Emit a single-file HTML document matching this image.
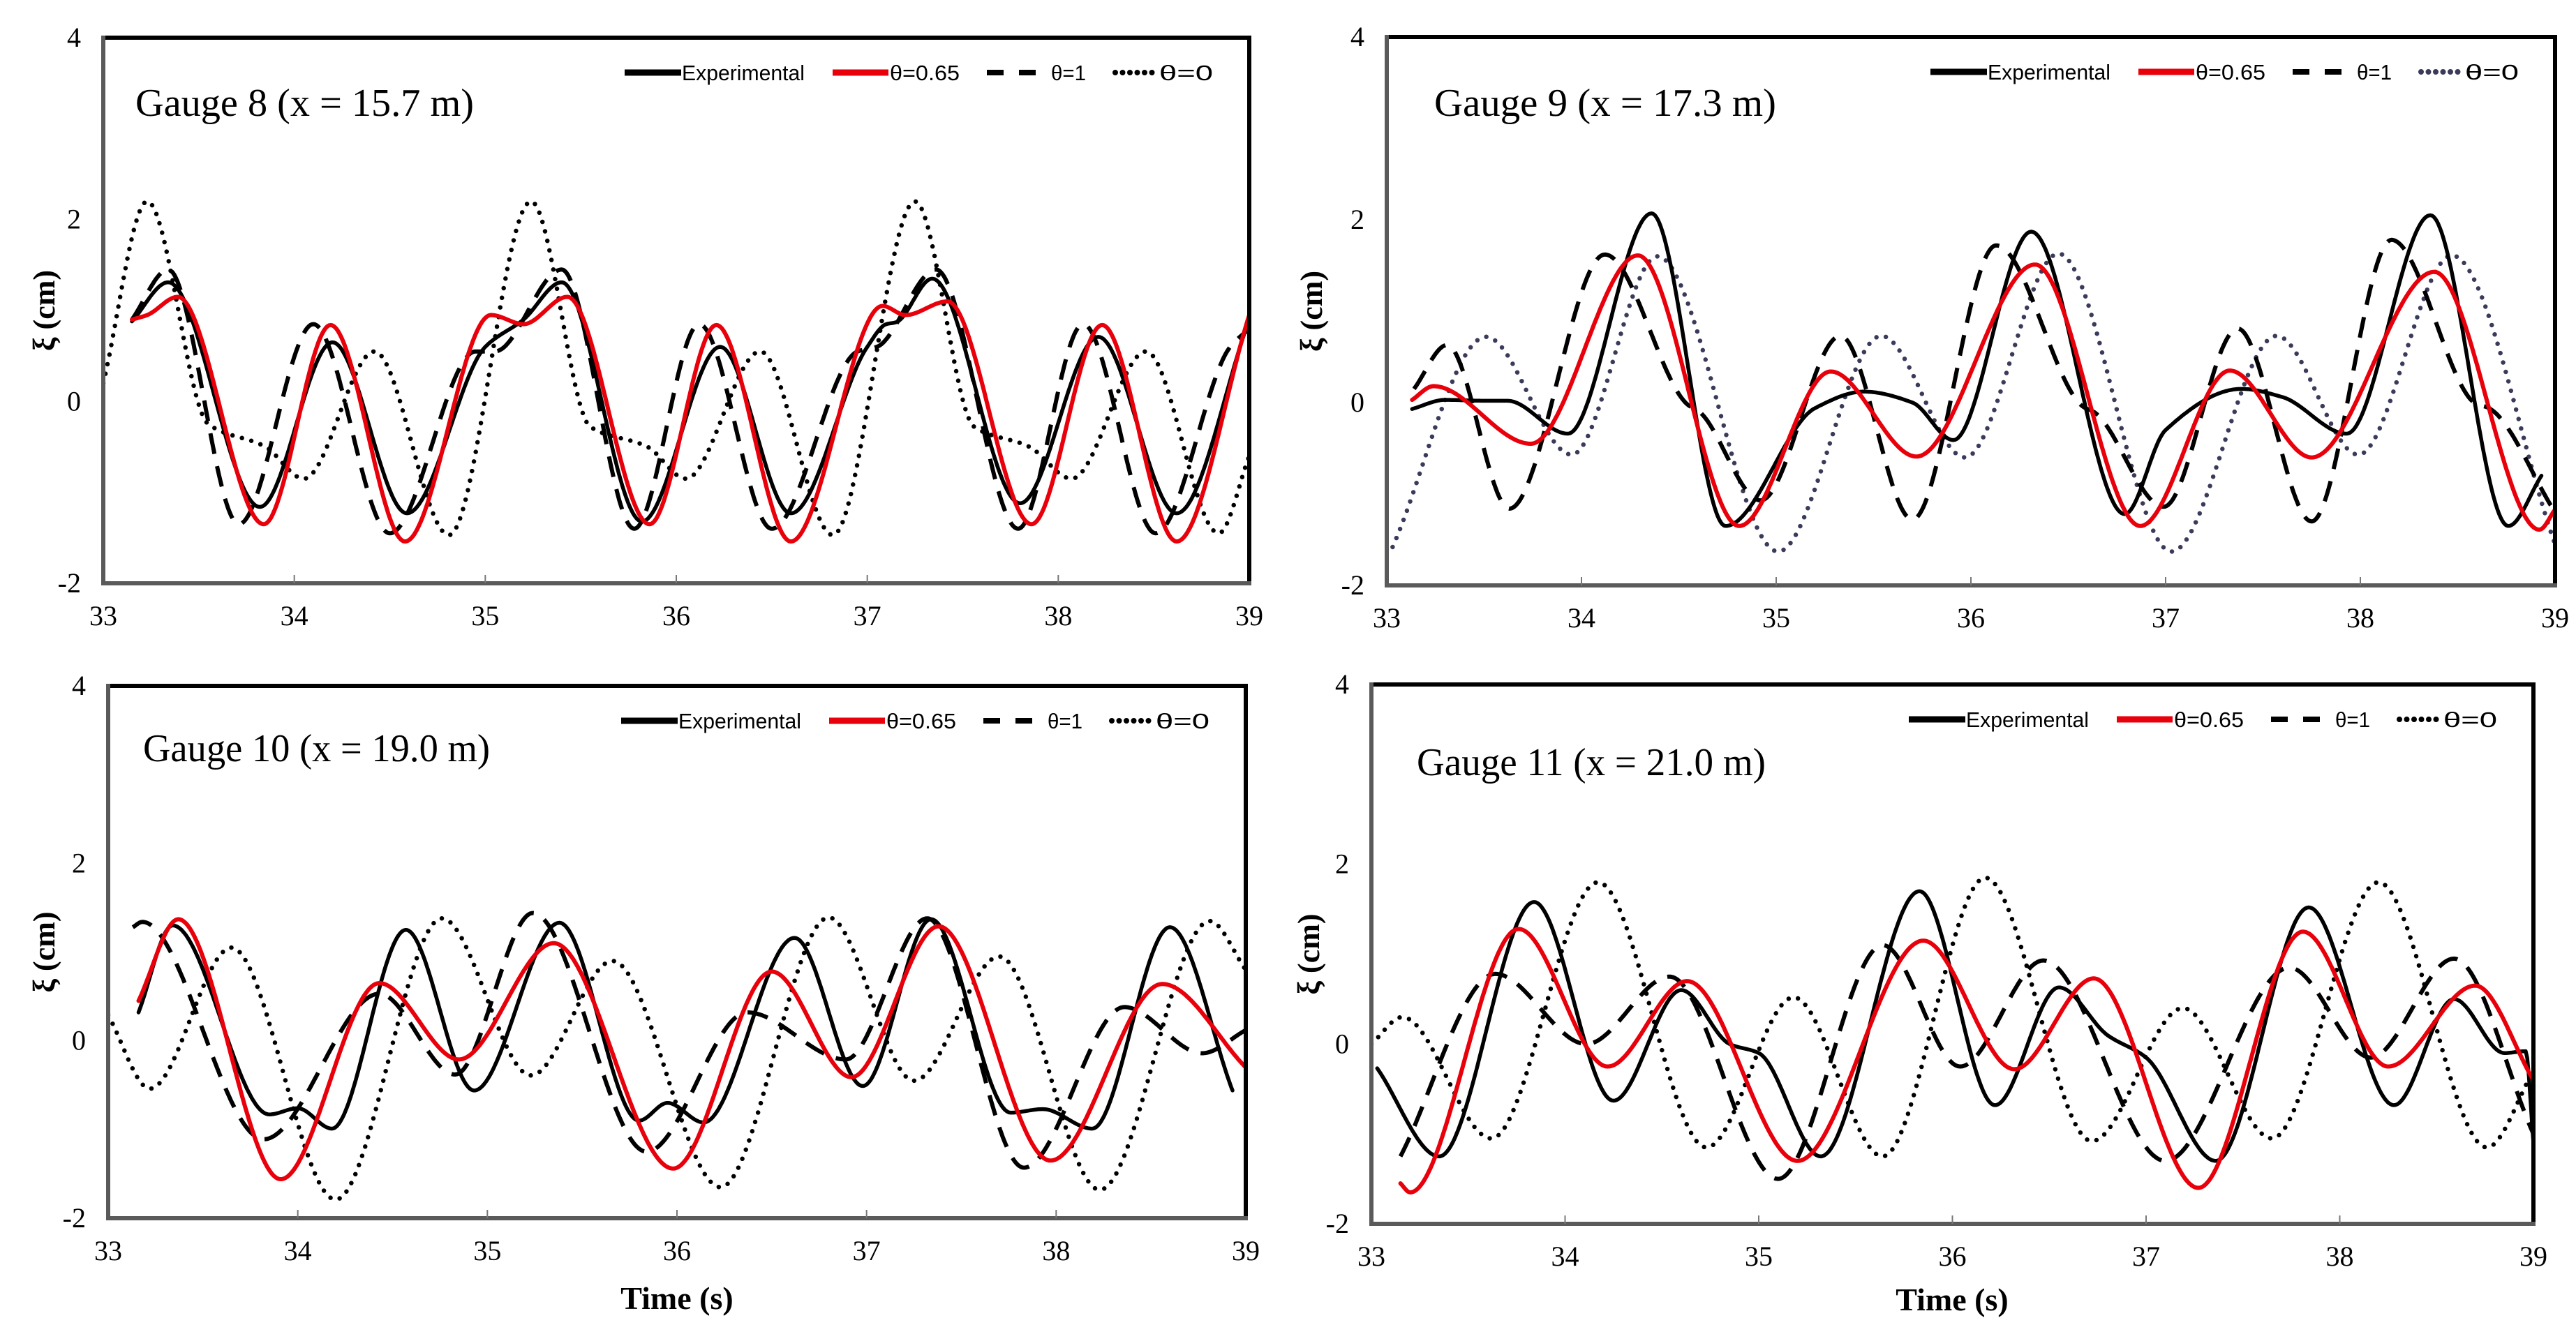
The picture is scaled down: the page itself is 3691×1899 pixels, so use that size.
<!DOCTYPE html>
<html><head><meta charset="utf-8"><style>
html,body{margin:0;padding:0;background:#fff;}
svg{display:block;}
</style></head><body>
<svg id="fig" width="3691" height="1899" viewBox="0 0 3691 1899" xmlns="http://www.w3.org/2000/svg"></svg>
<script>
// ---- data (time in s, surface elevation in cm) ----
const xTickLabels = ["33","34","35","36","37","38","39"];
const yTickLabels = ["4","2","0","-2"];
const gaugeTitles = ["Gauge 8 (x = 15.7 m)","Gauge 9 (x = 17.3 m)","Gauge 10 (x = 19.0 m)","Gauge 11 (x = 21.0 m)"];
const seriesNames = ["Experimental","θ=0.65","θ=1","θ=0"];

const g8ExpT = [33.15,33.34,33.82,34.2,34.59,35.0,35.2,35.4,35.82,36.23,36.6,37.0,37.1,37.15,37.34,37.8,38.21,38.62,39.0];
const g8ExpV = [0.88,1.31,-1.16,0.65,-1.23,0.6,0.9,1.31,-1.32,0.6,-1.23,0.6,0.85,0.87,1.35,-1.12,0.71,-1.23,0.9];
const g8RedT = [33.15,33.23,33.39,33.84,34.19,34.58,35.03,35.2,35.43,35.86,36.21,36.6,37.08,37.2,37.42,37.86,38.23,38.62,39.0];
const g8RedV = [0.9,0.95,1.15,-1.35,0.84,-1.54,0.95,0.85,1.15,-1.35,0.84,-1.54,1.05,0.95,1.1,-1.35,0.84,-1.54,0.95];
const g8DashT = [33.15,33.34,33.71,34.1,34.5,34.95,35.05,35.4,35.78,36.12,36.5,36.95,37.05,37.36,37.79,38.13,38.51,38.9,39.0];
const g8DashV = [0.9,1.45,-1.35,0.85,-1.45,0.55,0.55,1.45,-1.4,0.85,-1.4,0.55,0.6,1.45,-1.4,0.85,-1.45,0.6,0.8];
const g8DotT = [33.0,33.23,33.55,33.85,34.05,34.42,34.81,35.24,35.55,35.85,36.05,36.44,36.82,37.25,37.56,37.85,38.07,38.46,38.84,39.0];
const g8DotV = [0.2,2.2,-0.25,-0.5,-0.85,0.55,-1.47,2.2,-0.28,-0.5,-0.85,0.55,-1.47,2.2,-0.28,-0.5,-0.85,0.55,-1.45,-0.6];

const g9ExpT = [33.13,33.3,33.5,33.62,33.93,34.36,34.74,35.2,35.45,35.7,35.91,36.31,36.79,37.0,37.39,37.6,37.93,38.36,38.76,38.93];
const g9ExpV = [-0.07,0.03,0.02,0.02,-0.34,2.07,-1.35,-0.06,0.12,0.0,-0.41,1.87,-1.22,-0.3,0.15,0.06,-0.34,2.05,-1.35,-0.8];
const g9RedT = [33.13,33.24,33.74,34.29,34.81,35.28,35.72,36.33,36.87,37.33,37.75,38.38,38.92,39.0];
const g9RedV = [0.03,0.18,-0.45,1.61,-1.35,0.34,-0.59,1.51,-1.35,0.35,-0.6,1.43,-1.39,-1.17];
const g9DashT = [33.14,33.31,33.63,34.12,34.55,34.6,34.92,35.33,35.7,36.13,36.58,36.63,36.99,37.37,37.75,38.16,38.6,38.65,39.0];
const g9DashV = [0.15,0.63,-1.16,1.62,-0.03,-0.09,-1.07,0.73,-1.28,1.72,-0.05,-0.1,-1.14,0.81,-1.3,1.78,-0.02,-0.05,-1.2];
const g9DotT = [33.03,33.51,33.95,34.39,35.01,35.54,35.97,36.45,37.03,37.57,37.99,38.47,39.0];
const g9DotV = [-1.58,0.72,-0.57,1.6,-1.63,0.73,-0.6,1.63,-1.63,0.73,-0.57,1.61,-1.55];

const g10ExpT = [33.16,33.34,33.85,34.0,34.18,34.57,34.93,35.38,35.8,35.95,36.14,36.62,36.98,37.34,37.76,37.93,38.19,38.6,38.93];
const g10ExpV = [0.32,1.3,-0.83,-0.76,-0.99,1.25,-0.56,1.33,-0.9,-0.7,-0.92,1.16,-0.51,1.37,-0.81,-0.77,-0.99,1.28,-0.56];
const g10RedT = [33.16,33.37,33.91,34.43,34.85,35.35,35.98,36.5,36.92,37.38,37.97,38.56,39.0];
const g10RedV = [0.45,1.37,-1.56,0.65,-0.21,1.1,-1.44,0.78,-0.41,1.29,-1.35,0.64,-0.3];
const g10DashT = [33.13,33.18,33.82,34.43,34.83,35.24,35.84,36.37,36.89,37.32,37.83,38.36,38.77,39.0];
const g10DashV = [1.28,1.34,-1.11,0.53,-0.38,1.44,-1.25,0.32,-0.21,1.38,-1.43,0.38,-0.14,0.12];
const g10DotT = [33.0,33.22,33.65,34.2,34.76,35.23,35.66,36.23,36.8,37.25,37.7,38.23,38.81,39.0];
const g10DotV = [0.29,-0.54,1.05,-1.79,1.38,-0.39,0.9,-1.65,1.39,-0.45,0.95,-1.68,1.35,0.8];

const g11ExpT = [33.03,33.35,33.84,34.25,34.6,34.85,35.0,35.32,35.83,36.22,36.55,36.8,37.0,37.36,37.84,38.28,38.59,38.85,38.96,39.0];
const g11ExpV = [-0.27,-1.25,1.58,-0.63,0.6,0.0,-0.1,-1.25,1.7,-0.68,0.63,0.1,-0.15,-1.3,1.52,-0.68,0.5,-0.1,-0.08,-1.1];
const g11RedT = [33.15,33.2,33.76,34.22,34.63,35.2,35.85,36.32,36.73,37.27,37.81,38.25,38.7,39.0];
const g11RedV = [-1.55,-1.65,1.28,-0.25,0.7,-1.3,1.15,-0.28,0.73,-1.6,1.25,-0.25,0.65,-0.4];
const g11DashT = [33.15,33.64,34.11,34.54,35.1,35.64,36.04,36.47,37.1,37.74,38.16,38.59,39.0];
const g11DashV = [-1.25,0.78,0.0,0.75,-1.5,1.1,-0.25,0.93,-1.3,0.85,-0.15,0.95,-1.0];
const g11DotT = [33.0,33.16,33.62,34.17,34.73,35.18,35.64,36.17,36.72,37.19,37.65,38.2,38.76,39.0];
const g11DotV = [0.0,0.3,-1.05,1.8,-1.15,0.52,-1.25,1.85,-1.08,0.4,-1.05,1.8,-1.15,-0.3];

// ---- layout ----
const NS = "http://www.w3.org/2000/svg";
const svg = document.getElementById("fig");
const panels = [
  {x0:148,x1:1790,yT:54,yB:836,lx:194,ly:147,ylab:64,dotColor:"#000",key:"gauge-8",
   series:[[g8ExpT,g8ExpV],[g8RedT,g8RedV],[g8DashT,g8DashV],[g8DotT,g8DotV]]},
  {x0:1987,x1:3661,yT:53,yB:839,lx:2055,ly:147,ylab:1880,dotColor:"#3a3a5a",key:"gauge-9",
   series:[[g9ExpT,g9ExpV],[g9RedT,g9RedV],[g9DashT,g9DashV],[g9DotT,g9DotV]]},
  {x0:155,x1:1785,yT:983,yB:1746,lx:205,ly:1072,ylab:64,dotColor:"#000",key:"gauge-10",
   series:[[g10ExpT,g10ExpV],[g10RedT,g10RedV],[g10DashT,g10DashV],[g10DotT,g10DotV]]},
  {x0:1965,x1:3630,yT:981,yB:1754,lx:2030,ly:1092,ylab:1876,dotColor:"#000",key:"gauge-11",
   series:[[g11ExpT,g11ExpV],[g11RedT,g11RedV],[g11DashT,g11DashV],[g11DotT,g11DotV]]}
];
const styles = [
  {stroke:"#000",w:5.5,dash:null,cap:"round"},
  {stroke:"#e8000b",w:6,dash:null,cap:"round"},
  {stroke:"#000",w:6,dash:"30 18",cap:"butt"},
  {stroke:"#000",w:6.5,dash:"0 14",cap:"round"}
];
const seriesKeys = ["experimental","theta-0-65","theta-1","theta-0"];

function mk(tag, attrs, parent){
  const e = document.createElementNS(NS, tag);
  for (const k in attrs) e.setAttribute(k, attrs[k]);
  (parent||svg).appendChild(e);
  return e;
}
function monotone(T, V){
  const n=T.length, d=[], m=new Array(n).fill(0);
  for(let i=0;i<n-1;i++) d.push((V[i+1]-V[i])/(T[i+1]-T[i]));
  m[0]=d[0]; m[n-1]=d[n-2];
  for(let i=1;i<n-1;i++){
    if(d[i-1]*d[i]<=0) m[i]=0;
    else { const h0=T[i]-T[i-1], h1=T[i+1]-T[i];
      m[i]=3*(h0+h1)/((2*h1+h0)/d[i-1]+(h1+2*h0)/d[i]); }
  }
  const out=[];
  for(let i=0;i<n-1;i++){
    const h=T[i+1]-T[i], steps=Math.max(4,Math.ceil(h/0.008));
    for(let s=0;s<(i==n-2?steps+1:steps);s++){
      const u=s/steps, u2=u*u, u3=u2*u;
      const v=(2*u3-3*u2+1)*V[i]+(u3-2*u2+u)*h*m[i]+(-2*u3+3*u2)*V[i+1]+(u3-u2)*h*m[i+1];
      out.push([T[i]+u*h, v]);
    }
  }
  return out;
}

panels.forEach((p, pi) => {
  const g = mk("g", {});
  
  
  const sx = t => p.x0 + (t-33)/6*(p.x1-p.x0);
  const sy = v => p.yT + (4-v)/6*(p.yB-p.yT);

  // clip
  const cp = mk("clipPath", {id:"clip"+pi}, g);
  mk("rect", {x:p.x0, y:p.yT, width:p.x1-p.x0, height:p.yB-p.yT}, cp);

  // series
  const sg = mk("g", {"clip-path":"url(#clip"+pi+")"}, g);
  [3,2,0,1].forEach(si => {
    const [T,V] = p.series[si];
    const pts = monotone(T,V);
    const d = pts.map((q,i)=>(i?"L":"M")+sx(q[0]).toFixed(1)+","+sy(q[1]).toFixed(1)).join("");
    const st = styles[si];
    const path = mk("path", {d:d, fill:"none", stroke: si==3?p.dotColor:st.stroke, "stroke-width":st.w,
      "stroke-linecap":st.cap, "stroke-linejoin":"round"}, sg);
    if (st.dash) path.setAttribute("stroke-dasharray", st.dash);
    
    
  });

  // axes frame
  const top = mk("line",{x1:p.x0,y1:p.yT,x2:p.x1,y2:p.yT,stroke:"#000","stroke-width":6},g);
  
  
  const right = mk("line",{x1:p.x1,y1:p.yT-3,x2:p.x1,y2:p.yB,stroke:"#000","stroke-width":6},g);
  
  
  const yax = mk("line",{x1:p.x0,y1:p.yT-3,x2:p.x0,y2:p.yB+3,stroke:"#5a5a5a","stroke-width":6},g);
  
  
  const xax = mk("line",{x1:p.x0-3,y1:p.yB,x2:p.x1+3,y2:p.yB,stroke:"#5a5a5a","stroke-width":6},g);
  
  

  // x ticks
  xTickLabels.forEach((lab, i) => {
    const t = 33 + i, x = sx(t);
    if (i>0 && i<6) {
      const tk = mk("line",{x1:x,y1:p.yB,x2:x,y2:p.yB-12,stroke:"#777","stroke-width":2},g);
      
      
    }
    const tx = mk("text",{x:x,y:p.yB+60,"text-anchor":"middle","font-family":"Liberation Serif, serif","font-size":40},g);
    tx.textContent = lab;
    
    
  });
  // y ticks
  yTickLabels.forEach((lab, i) => {
    const v = 4 - 2*i, y = sy(v);
    const tx = mk("text",{x:p.x0-32,y:y+13,"text-anchor":"end","font-family":"Liberation Serif, serif","font-size":40},g);
    tx.textContent = lab;
    
    
  });
  // y axis title
  const yt = mk("text",{x:p.ylab,y:(p.yT+p.yB)/2,"text-anchor":"middle","font-family":"Liberation Serif, serif",
    "font-size":44,"font-weight":"bold",transform:"rotate(-90 "+p.ylab+" "+(p.yT+p.yB)/2+")",dy:14},g);
  yt.textContent = "ξ (cm)";
  
  

  // gauge title
  const gt = mk("text",{x:p.lx,y:p.ly+19,"font-family":"Liberation Serif, serif","font-size":56,
    textLength: pi==0?485:(pi==1?490:(pi==2?497:500)), lengthAdjust:"spacingAndGlyphs"},g);
  gt.textContent = gaugeTitles[pi];
  
  

  // legend
  const L = p.x1 - 895, ly = p.yT + 50;
  const lg = mk("g",{},g);
  
  
  const items = [
    {x1:L,x2:L+81,tx:L+82,tw:176,si:0},
    {x1:L+298,x2:L+378,tx:L+380,tw:100,si:1},
    {x1:L+519,x2:L+590,tx:L+611,tw:50,si:2},
    {x1:L+703,x2:L+756,tx:L+766,tw:77,si:3}
  ];
  items.forEach(it => {
    const st = styles[it.si];
    const ln = mk("line",{x1:it.x1,y1:ly,x2:it.x2,y2:ly,stroke: it.si==3?p.dotColor:st.stroke,
      "stroke-width": it.si==0||it.si==1 ? 9 : 8,"stroke-linecap":it.si==3?"round":"butt"},lg);
    if (it.si==2) ln.setAttribute("stroke-dasharray","24 22");
    if (it.si==3) ln.setAttribute("stroke-dasharray","0 10.5");
    
    
    const tx = mk("text",{x:it.tx,y:ly+11,"font-family":"Liberation Sans Narrow, Liberation Sans, sans-serif","font-size":31,
      textLength:it.tw,lengthAdjust:"spacingAndGlyphs"},lg);
    tx.textContent = seriesNames[it.si];
    
    
  });
});

// x axis titles (bottom panels)
[[970,1876],[2797,1878]].forEach((c, i) => {
  const t = mk("text",{x:c[0],y:c[1],"text-anchor":"middle","font-family":"Liberation Serif, serif","font-size":46,"font-weight":"bold"});
  t.textContent = "Time (s)";
  
  
});
</script>
</body></html>
